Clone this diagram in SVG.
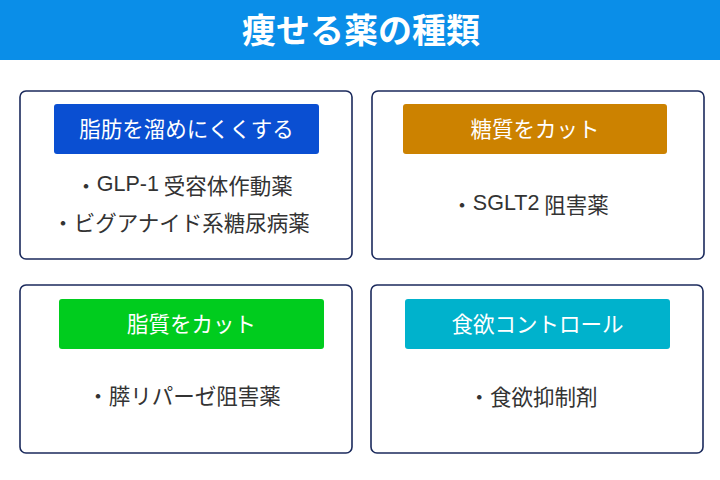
<svg xmlns="http://www.w3.org/2000/svg" width="720" height="480" viewBox="0 0 720 480">
<style>
text{font-family:"Noto Sans CJK JP","Noto Sans",sans-serif;dominant-baseline:central;text-anchor:middle}
.card{fill:#fff;stroke:#1b2a5c;stroke-width:1.6}
.lab{font-size:21.5px;fill:#fff}
.item{font-size:21.5px;fill:#333}
.lat{font-family:"Liberation Sans",Arial,sans-serif}
</style>
<rect width="720" height="480" fill="#fff"/>
<g id="header">
<rect x="0" y="0" width="720" height="60" fill="#0a8ee8"/>
<text x="361" y="28" style="font-size:34px;font-weight:bold;fill:#fff">痩せる薬の種類</text>
</g>
<g id="card1">
<rect class="card" x="20" y="91" width="332" height="168" rx="6"/>
<rect x="54" y="104" width="265" height="50" rx="3" fill="#0a4fd2"/>
<text class="lab" x="186.5" y="127.5">脂肪を溜めにくくする</text>
<text class="item" x="184" y="184">・<tspan class="lat">GLP-1</tspan> 受容体作動薬</text>
<text class="item" x="181" y="221">・ビグアナイド系糖尿病薬</text>
</g>
<g id="card2">
<rect class="card" x="372" y="91" width="332" height="168" rx="6"/>
<rect x="403" y="104" width="264" height="50" rx="3" fill="#cc8200"/>
<text class="lab" x="535" y="127.5">糖質をカット</text>
<text class="item" x="530" y="203">・<tspan class="lat">SGLT2</tspan> 阻害薬</text>
</g>
<g id="card3">
<rect class="card" x="20" y="285" width="332" height="168" rx="6"/>
<rect x="59" y="299" width="265" height="50" rx="3" fill="#00cc1e"/>
<text class="lab" x="191.5" y="322.5">脂質をカット</text>
<text class="item" x="184" y="394.5">・膵リパーゼ阻害薬</text>
</g>
<g id="card4">
<rect class="card" x="371" y="285" width="332" height="168" rx="6"/>
<rect x="405" y="299" width="265" height="50" rx="3" fill="#00b2cc"/>
<text class="lab" x="537.5" y="322.5">食欲コントロール</text>
<text class="item" x="533" y="395.5">・食欲抑制剤</text>
</g>
<g id="connectors"/>
</svg>
